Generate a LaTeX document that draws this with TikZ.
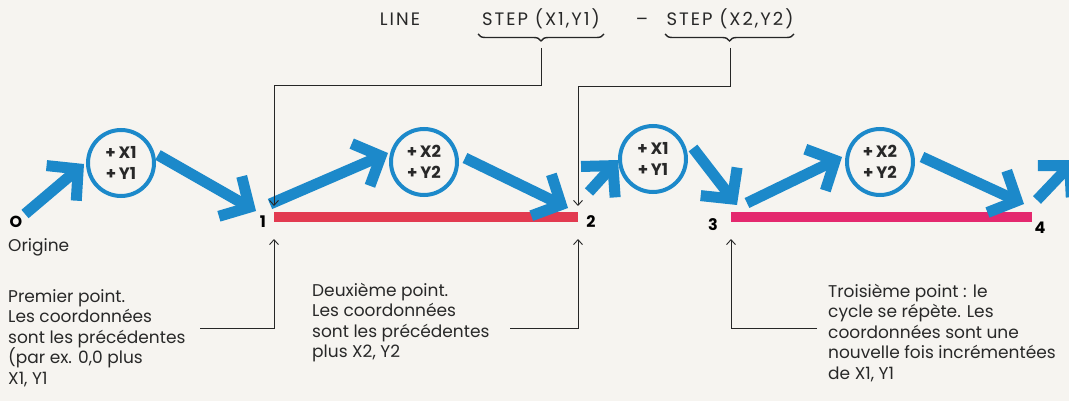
\documentclass[tikz,border=0pt]{standalone}
\usepackage{fontspec}
\setmainfont{Poppins}
\newfontfamily\topfont[LetterSpace=11]{Poppins}
\usetikzlibrary{arrows.meta,decorations.pathreplacing}
\definecolor{bgpaper}{RGB}{246,244,240}
\definecolor{arrblue}{RGB}{28,137,202}
\definecolor{lred}{RGB}{226,58,80}
\definecolor{lpink}{RGB}{228,40,110}
\definecolor{inkgray}{RGB}{40,40,40}
\tikzset{
  bigarrow/.style={draw=arrblue, line width=11pt, line cap=butt,
    -{Straight Barb[length=22pt,width=46pt]}},
  stepcircle/.style={circle, draw=arrblue, line width=4pt, minimum size=66pt,
    inner sep=0pt, align=center, text=inkgray,
    font=\bfseries\fontsize{16.5}{21}\selectfont},
  segline/.style={line width=9pt, line cap=butt},
  thinarrow/.style={draw=black!85, line width=0.9pt,
    -{Straight Barb[length=5pt,width=9pt]}},
  bracestyle/.style={draw=black!85, line width=1.4pt,
    decorate, decoration={brace, mirror, amplitude=7pt}},
  txt/.style={text=inkgray, inner sep=0pt, align=left,
    font=\fontsize{17}{20.5}\selectfont},
  toptxt/.style={text=inkgray, inner sep=0pt, anchor=base,
    font=\topfont\fontsize{18}{20}\selectfont},
  numlabel/.style={text=black, inner sep=0pt,
    font=\bfseries\fontsize{16}{18}\selectfont},
}
\begin{document}
\begin{tikzpicture}[x=1pt,y=-1pt]
\fill[bgpaper] (0,0) rectangle (1069,401);
\useasboundingbox (0,0) rectangle (1069,401);
\clip (0,0) rectangle (1069,401);

% top statement
\node[toptxt] (line) at (400,26) {LINE};
\node[toptxt] (s1) at (541,26) {STEP (X1,Y1)};
\node[toptxt] (dash) at (642,26) {–};
\node[toptxt] (s2) at (730,26) {STEP (X2,Y2)};

\coordinate (b1l) at (478,34);
\coordinate (b1r) at (604,34);
\coordinate (b2l) at (665,34);
\coordinate (b2r) at (794,34);
\draw[bracestyle] (b1l) -- (b1r);
\draw[bracestyle] (b2l) -- (b2r);
\coordinate (b1tip) at (541,48);
\coordinate (b2tip) at (730,48);

% circles
\node[stepcircle] (c1) at (121,163) {+\,X1\\+\,Y1};
\node[stepcircle] (c2) at (424,162) {+\,X2\\+\,Y2};
\node[stepcircle] (c3) at (653,159) {+\,X1\\+\,Y1};
\node[stepcircle] (c4) at (880,162) {+\,X2\\+\,Y2};

% points
\coordinate (p1) at (274,217);
\coordinate (p2) at (578,217);
\coordinate (p3) at (731,217);
\coordinate (p4) at (1032,217);
\draw[segline, lred] (p1) -- (p2);
\draw[segline, lpink] (p3) -- (p4);

\node[numlabel] (o) at (16,222) {O};
\node[txt, anchor=north west] (orig) at (8,238) {Origine};
\node[numlabel] (n1) at (263,222) {1};
\node[numlabel] (n2) at (591,222) {2};
\node[numlabel] (n3) at (713,225) {3};
\node[numlabel] (n4) at (1040,228) {4};

% big blue arrows
\coordinate (a0) at (25,214);   \coordinate (a1) at (84,164);
\coordinate (b0) at (158,155);  \coordinate (b1) at (256,211);
\coordinate (e0) at (270,204);  \coordinate (e1) at (388,153);
\coordinate (d0) at (465,158);  \coordinate (d1) at (568,208);
\coordinate (f0) at (589,192);  \coordinate (f1) at (618,160);
\coordinate (g0) at (693,148);  \coordinate (g1) at (737,205);
\coordinate (h0) at (747,203);  \coordinate (h1) at (842,157);
\coordinate (i0) at (922,157);  \coordinate (i1) at (1024,204);
\coordinate (j0) at (1037,200); \coordinate (j1) at (1075,160);
\draw[bigarrow] (a0) -- (a1);
\draw[bigarrow] (b0) -- (b1);
\draw[bigarrow] (e0) -- (e1);
\draw[bigarrow] (d0) -- (d1);
\draw[bigarrow] (f0) -- (f1);
\draw[bigarrow] (g0) -- (g1);
\draw[bigarrow] (h0) -- (h1);
\draw[bigarrow] (i0) -- (i1);
\draw[bigarrow] (j0) -- (j1);

% thin connectors from the braces
\coordinate (p1top) at (274,206);
\coordinate (p2top) at (578,206);
\draw[thinarrow] (b1tip) -- ++(0,37) -| (p1top);
\draw[thinarrow] (b2tip) -- ++(0,38) -| (p2top);

% explanation texts
\node[txt, anchor=north west] (t1) at (8,289) {Premier point.\\Les coordonnées\\sont les précédentes\\(par ex. 0,0 plus\\X1, Y1};
\node[txt, anchor=north west] (t2) at (312,283) {Deuxième point.\\Les coordonnées\\sont les précédentes\\plus X2, Y2};
\node[txt, anchor=north west] (t3) at (828,284) {Troisième point : le\\cycle se répète. Les\\coordonnées sont une\\nouvelle fois incrémentées\\de X1, Y1};

\coordinate (k1) at (200,328);
\coordinate (k2) at (510,328);
\coordinate (k3) at (817,328);
\coordinate (p1bot) at (274,239);
\coordinate (p2bot) at (578,239);
\coordinate (p3bot) at (731,239);
\draw[thinarrow] (k1) -| (p1bot);
\draw[thinarrow] (k2) -| (p2bot);
\draw[thinarrow] (k3) -| (p3bot);
\end{tikzpicture}
\end{document}
